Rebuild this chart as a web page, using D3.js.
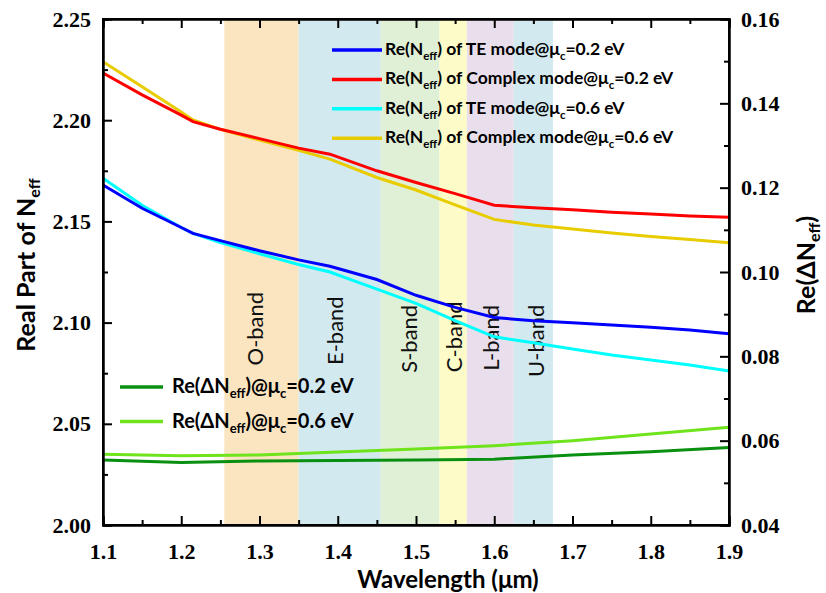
<!DOCTYPE html>
<html>
<head>
<meta charset="utf-8">
<script src="https://cdn.jsdelivr.net/npm/d3@7"></script>
<style>
  body { margin: 0; background: #fff; }
  .tick text { font-family: "Liberation Serif", serif; font-weight: bold; font-size: 22px; fill: #000; }
  .lbl { font-family: Lato, "Open Sans", sans-serif; font-weight: bold; fill: #000; }
</style>
</head>
<body>
<svg id="chart" width="826" height="593"></svg>
<script>
// wavelength samples (um)
const wavelengths = [1.10, 1.15, 1.20, 1.215, 1.25, 1.30, 1.35, 1.39, 1.45, 1.50, 1.55, 1.60, 1.65, 1.70, 1.75, 1.80, 1.85, 1.90];

// Re(Neff), left axis
const teMode02      = [2.1680, 2.1565, 2.1470, 2.1441, 2.1405, 2.1355, 2.1310, 2.1278, 2.1213, 2.1135, 2.1075, 2.1025, 2.1009, 2.0999, 2.0988, 2.0977, 2.0963, 2.0945];
const complexMode02 = [2.2233, 2.2125, 2.2025, 2.1993, 2.1955, 2.1909, 2.1862, 2.1832, 2.1750, 2.1692, 2.1637, 2.1580, 2.1567, 2.1557, 2.1545, 2.1537, 2.1527, 2.1521];
const teMode06      = [2.1713, 2.1580, 2.1470, 2.1441, 2.1395, 2.1340, 2.1287, 2.1250, 2.1165, 2.1095, 2.1010, 2.0930, 2.0900, 2.0870, 2.0840, 2.0815, 2.0790, 2.0761];
const complexMode06 = [2.2289, 2.2165, 2.2040, 2.2001, 2.1955, 2.1902, 2.1851, 2.1808, 2.1717, 2.1655, 2.1582, 2.1510, 2.1482, 2.1462, 2.1443, 2.1425, 2.1410, 2.1395];

// Re(dNeff), right axis
const deltaWl = [1.1, 1.2, 1.3, 1.4, 1.5, 1.6, 1.7, 1.8, 1.9];
const delta02 = [0.0554, 0.0548, 0.0552, 0.0553, 0.0554, 0.0556, 0.0566, 0.0574, 0.0584];
const delta06 = [0.0568, 0.0564, 0.0566, 0.0573, 0.0580, 0.0588, 0.0600, 0.0616, 0.0632];

// telecom bands
const bandNames = ['O-band', 'E-band', 'S-band', 'C-band', 'L-band', 'U-band'];
const bandEdges = [1.255, 1.35, 1.455, 1.53, 1.565, 1.625, 1.675];
const bandColors = ['#fbe5c1', '#d3e9f0', '#e0f0d6', '#fdfcc9', '#e9dfec', '#d3e9f0'];
// where each band label sits (wavelength, Re(Neff))
const bandLabelX = [1.295, 1.398, 1.492, 1.550, 1.597, 1.655];
const bandLabelY = [2.0970, 2.0960, 2.0920, 2.0930, 2.0925, 2.0910];

const xTicks = [1.1, 1.2, 1.3, 1.4, 1.5, 1.6, 1.7, 1.8, 1.9];
const leftTicks = [2.00, 2.05, 2.10, 2.15, 2.20, 2.25];
const rightTicks = [0.04, 0.06, 0.08, 0.10, 0.12, 0.14, 0.16];

const margin = { top: 19, left: 103, right: 97, bottom: 68 };
const width = 826 - margin.left - margin.right;
const height = 593 - margin.top - margin.bottom;

const svg = d3.select('#chart');
const chart = svg.append('g').attr('transform', `translate(${margin.left}, ${margin.top})`);

const x = d3.scaleLinear().domain([1.1, 1.9]).range([0, width]);
const yL = d3.scaleLinear().domain([2.00, 2.25]).range([height, 0]);
const yR = d3.scaleLinear().domain([0.04, 0.16]).range([height, 0]);

// bands
chart.selectAll('.band')
	.data(bandNames)
	.enter()
	.append('rect')
	.attr('x', (d, i) => x(bandEdges[i]))
	.attr('width', (d, i) => x(bandEdges[i + 1]) - x(bandEdges[i]))
	.attr('y', 0)
	.attr('height', height)
	.attr('fill', (d, i) => bandColors[i]);

chart.selectAll('.bandLabel')
	.data(bandNames)
	.enter()
	.append('text')
	.attr('class', 'lbl')
	.attr('transform', (d, i) => `translate(${x(bandLabelX[i]) + 7}, ${yL(bandLabelY[i])}) rotate(-90)`)
	.attr('text-anchor', 'middle')
	.style('font-weight', 'normal')
	.style('font-size', '22px')
	.style('fill', '#111')
	.text(d => d);

// lines
const lineL = d3.line().x((d, i) => x(wavelengths[i])).y(d => yL(d));
const lineR = d3.line().x((d, i) => x(deltaWl[i])).y(d => yR(d));

const leftSeries = [
	{ values: teMode06, color: '#00ffff' },
	{ values: teMode02, color: '#0000ff' },
	{ values: complexMode06, color: '#e8cc00' },
	{ values: complexMode02, color: '#ff0000' }
];
leftSeries.forEach(s => {
	chart.append('path')
		.attr('d', lineL(s.values))
		.attr('fill', 'none')
		.attr('stroke', s.color)
		.attr('stroke-width', 3);
});
[{ values: delta06, color: '#6fe31c' }, { values: delta02, color: '#0a9010' }].forEach(s => {
	chart.append('path')
		.attr('d', lineR(s.values))
		.attr('fill', 'none')
		.attr('stroke', s.color)
		.attr('stroke-width', 3);
});

// axes (ticks pointing inward)
const minorX = d3.range(1.15, 1.9, 0.1);
const minorL = [2.025, 2.075, 2.125, 2.175, 2.225];
const minorR = [0.05, 0.07, 0.09, 0.11, 0.13, 0.15];

chart.append('g')
	.attr('transform', `translate(0, ${height})`)
	.call(d3.axisBottom(x).tickValues(xTicks).tickSize(-9).tickPadding(18).tickFormat(d3.format('.1f')));
chart.append('g')
	.attr('transform', `translate(0, ${height})`)
	.call(d3.axisBottom(x).tickValues(minorX).tickSize(-5).tickFormat(''));
chart.append('g')
	.call(d3.axisTop(x).tickValues(xTicks).tickSize(-9).tickFormat(''));
chart.append('g')
	.call(d3.axisTop(x).tickValues(minorX).tickSize(-5).tickFormat(''));

chart.append('g')
	.call(d3.axisLeft(yL).tickValues(leftTicks).tickSize(-9).tickPadding(12).tickFormat(d3.format('.2f')));
chart.append('g')
	.call(d3.axisLeft(yL).tickValues(minorL).tickSize(-5).tickFormat(''));

chart.append('g')
	.attr('transform', `translate(${width}, 0)`)
	.call(d3.axisRight(yR).tickValues(rightTicks).tickSize(-9).tickPadding(12).tickFormat(d3.format('.2f')));
chart.append('g')
	.attr('transform', `translate(${width}, 0)`)
	.call(d3.axisRight(yR).tickValues(minorR).tickSize(-5).tickFormat(''));

chart.selectAll('.domain').attr('stroke', '#000').attr('stroke-width', 2);
chart.selectAll('.tick line').attr('stroke', '#000').attr('stroke-width', 2);

// frame
chart.append('rect')
	.attr('width', width).attr('height', height)
	.attr('fill', 'none').attr('stroke', '#000').attr('stroke-width', 2);

// text with subscripts
function subText(sel, parts, subSize) {
	parts.forEach((p, i) => {
		const t = sel.append('tspan').text(p);
		if (i % 2 === 1) t.attr('dy', 5).style('font-size', subSize);
		else if (i > 0) t.attr('dy', -5);
	});
}

// legends
const topLegend = [
	{ color: '#0000ff', parts: ['Re(N', 'eff', ') of TE mode@\u03bc', 'c', '=0.2 eV'] },
	{ color: '#ff0000', parts: ['Re(N', 'eff', ') of Complex mode@\u03bc', 'c', '=0.2 eV'] },
	{ color: '#00ffff', parts: ['Re(N', 'eff', ') of TE mode@\u03bc', 'c', '=0.6 eV'] },
	{ color: '#e8cc00', parts: ['Re(N', 'eff', ') of Complex mode@\u03bc', 'c', '=0.6 eV'] }
];
topLegend.forEach((d, i) => {
	const yy = 50 + i * 29.4;
	svg.append('line').attr('x1', 332).attr('x2', 382).attr('y1', yy).attr('y2', yy)
		.attr('stroke', d.color).attr('stroke-width', 3.5);
	const t = svg.append('text').attr('class', 'lbl').attr('x', 385).attr('y', yy + 5)
		.style('font-size', '17.5px');
	subText(t, d.parts, '11.5px');
});

const bottomLegend = [
	{ color: '#0a9010', parts: ['Re(\u0394N', 'eff', ')@\u03bc', 'c', '=0.2 eV'] },
	{ color: '#6fe31c', parts: ['Re(\u0394N', 'eff', ')@\u03bc', 'c', '=0.6 eV'] }
];
bottomLegend.forEach((d, i) => {
	const yy = 387 + i * 34.5;
	svg.append('line').attr('x1', 120).attr('x2', 163).attr('y1', yy).attr('y2', yy)
		.attr('stroke', d.color).attr('stroke-width', 3.5);
	const t = svg.append('text').attr('class', 'lbl').attr('x', 172).attr('y', yy + 6)
		.style('font-size', '20px');
	subText(t, d.parts, '13px');
});

// axis titles
const yTitle = svg.append('text').attr('class', 'lbl')
	.attr('transform', 'translate(35, 265) rotate(-90)')
	.attr('text-anchor', 'middle').style('font-size', '25px');
subText(yTitle, ['Real Part of N', 'eff'], '16px');

const rTitle = svg.append('text').attr('class', 'lbl')
	.attr('transform', 'translate(815, 265) rotate(-90)')
	.attr('text-anchor', 'middle').style('font-size', '25px');
subText(rTitle, ['Re(\u0394N', 'eff', ')'], '16px');

svg.append('text').attr('class', 'lbl')
	.attr('x', 448).attr('y', 588)
	.attr('text-anchor', 'middle').style('font-size', '24px')
	.text('Wavelength (\u03bcm)');
</script>
</body>
</html>
